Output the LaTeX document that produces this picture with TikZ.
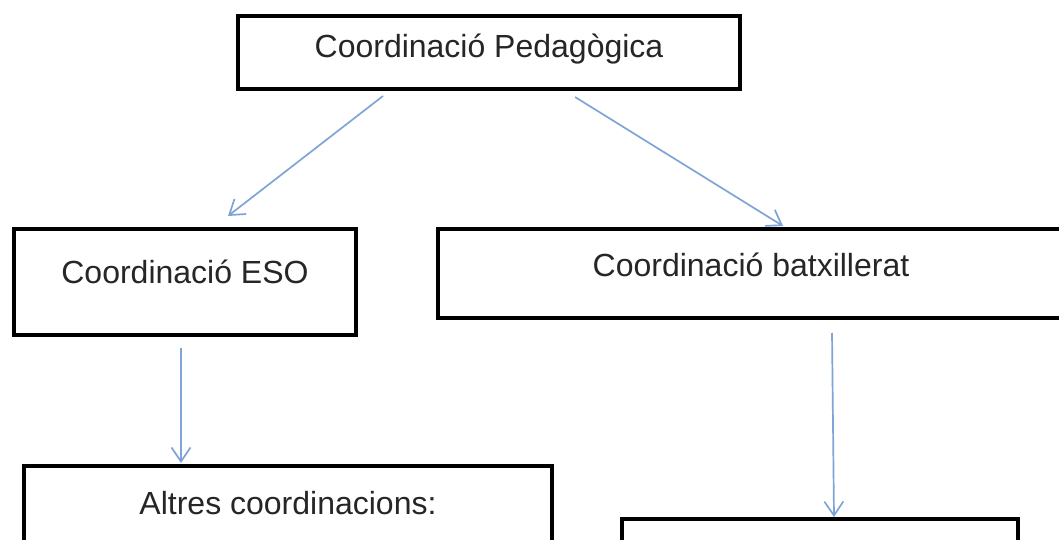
\documentclass[tikz,border=0pt]{standalone}
\usepackage{fontspec}
\setmainfont{Liberation Sans}
\usetikzlibrary{arrows.meta}
\definecolor{arrblue}{HTML}{7FA4D8}
\tikzset{
  box/.style={draw=black, line width=4pt, outer sep=0pt, inner sep=0pt, fill=white},
  lbl/.style={font=\fontsize{32}{38}\selectfont, text=black!85, inner sep=0pt},
  arr/.style={draw=arrblue, line width=1.7pt, -{Straight Barb[length=14pt,width=19pt,line width=1.7pt]}}
}
\begin{document}
\begin{tikzpicture}[x=1pt,y=-1pt]
\useasboundingbox (0,0) rectangle (1059,540);
\clip (0,0) rectangle (1059,540);
\fill[white] (0,0) rectangle (1059,540);
\node[box, minimum width=502pt, minimum height=73pt,
  label={[lbl, anchor=center, yshift=3pt]center:Coordinació Pedagògica}] (ped) at (489,52.5) {};
\node[box, minimum width=342pt, minimum height=106pt,
  label={[lbl, anchor=center, yshift=10pt]center:Coordinació ESO}] (eso) at (185,282) {};
\node[box, minimum width=626pt, minimum height=89pt,
  label={[lbl, anchor=center, yshift=9pt]center:Coordinació batxillerat}] (batx) at (751,273.5) {};
\node[box, minimum width=528pt, minimum height=200pt,
  label={[lbl, anchor=center, yshift=-37pt]north:Altres coordinacions:}] (altres) at (288,566) {};
\node[box, minimum width=396pt, minimum height=200pt] (br) at (820,619) {};
\draw[arr] ([shift={(145,7)}]ped.south west) -- ([shift={(214,-13)}]eso.north west);
\draw[arr] ([shift={(337,8)}]ped.south west) -- ([shift={(345,-3)}]batx.north west);
\draw[arr] ([shift={(167,13)}]eso.south west) -- ([shift={(157,-3)}]altres.north west);
\draw[arr] ([shift={(394,15)}]batx.south west) -- ([shift={(212,-2)}]br.north west);
\end{tikzpicture}
\end{document}
